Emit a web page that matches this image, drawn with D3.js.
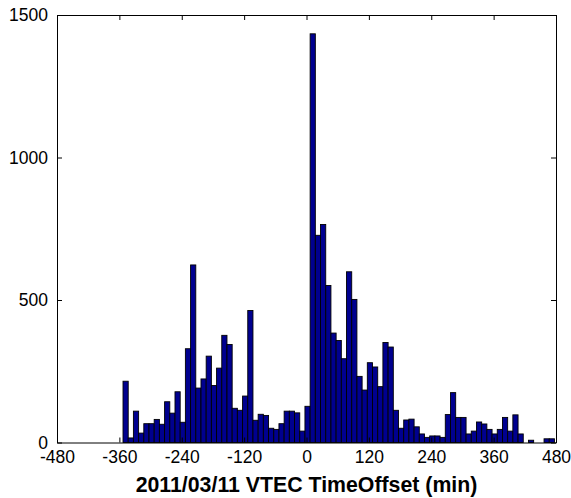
<!DOCTYPE html>
<html>
<head>
<meta charset="utf-8">
<script src="https://cdn.jsdelivr.net/npm/d3@7"></script>
<style>
  html, body { margin: 0; padding: 0; background: #fff; }
  svg { display: block; }
</style>
</head>
<body>
<svg id="chart" width="571" height="498"></svg>
<script>
// Histogram bins: 10-minute bins, first bin starts at -353 min
const binStart = -353;
const binWidth = 10;
const counts = [
  215, 16, 110, 33, 66, 66, 81, 64, 143, 103,
  178, 71, 329, 623, 191, 223, 303, 200, 261, 376,
  344, 120, 113, 163, 463, 78, 99, 95, 50, 46,
  66, 110, 110, 104, 40, 127, 1434, 727, 765, 551,
  384, 358, 294, 599, 502, 232, 184, 280, 265, 196,
  351, 335, 113, 50, 79, 82, 55, 30, 18, 23,
  23, 18, 98, 175, 88, 88, 30, 40, 72, 65,
  46, 30, 46, 88, 40, 97, 30, 0, 8, 0,
  0, 13, 13
];
const xTicks = [-480, -360, -240, -120, 0, 120, 240, 360, 480];
const yTicks = [0, 500, 1000, 1500];
const xLabel = "2011/03/11 VTEC TimeOffset (min)";

(function () {
const bins = counts.map((c, i) => ({ x0: binStart + i * binWidth, x1: binStart + (i + 1) * binWidth, v: c }));

const svg = d3.select("#chart");
const mLeft = 57, mRight = 556, mTop = 15, mBottom = 442.5;

const x = d3.scaleLinear().domain([-480, 480]).range([mLeft, mRight]);
const y = d3.scaleLinear().domain([0, 1500]).range([mBottom, mTop]);

// bars
svg.append("g").selectAll("rect")
  .data(bins.filter(d => d.v > 0))
  .join("rect")
  .attr("x", d => x(d.x0))
  .attr("width", d => x(d.x1) - x(d.x0))
  .attr("y", d => y(d.v))
  .attr("height", d => y(0) - y(d.v))
  .attr("fill", "#00008F")
  .attr("stroke", "#000")
  .attr("stroke-width", 0.9);

const font = "'Liberation Sans', Arial, Helvetica, sans-serif";
const tickLen = 5;
const fmt = d => String(d);

const axB = d3.axisBottom(x).tickValues(xTicks).tickSizeInner(-tickLen).tickSizeOuter(0).tickPadding(9).tickFormat(fmt);
const axT = d3.axisTop(x).tickValues(xTicks).tickSizeInner(-tickLen).tickSizeOuter(0).tickFormat("");
const axL = d3.axisLeft(y).tickValues(yTicks).tickSizeInner(-tickLen).tickSizeOuter(0).tickPadding(9).tickFormat(fmt);
const axR = d3.axisRight(y).tickValues(yTicks).tickSizeInner(-tickLen).tickSizeOuter(0).tickFormat("");

const gB = svg.append("g").attr("transform", `translate(0,${mBottom})`).call(axB);
const gT = svg.append("g").attr("transform", `translate(0,${mTop})`).call(axT);
const gL = svg.append("g").attr("transform", `translate(${mLeft},0)`).call(axL);
const gR = svg.append("g").attr("transform", `translate(${mRight},0)`).call(axR);

[gB, gT, gL, gR].forEach(g => {
  g.select(".domain").attr("stroke", "#000").attr("stroke-width", 1);
  g.selectAll(".tick line").attr("stroke", "#000").attr("stroke-width", 1);
  g.selectAll("text").attr("font-family", font).attr("font-size", 17.5).attr("fill", "#000");
});
gB.selectAll("text").attr("dy", "0.71em").attr("y", 8.5);

svg.append("text")
  .attr("x", (mLeft + mRight) / 2)
  .attr("y", 492)
  .attr("text-anchor", "middle")
  .attr("font-family", font)
  .attr("font-weight", "bold")
  .attr("font-size", 21.3)
  .attr("fill", "#000")
  .text(xLabel);
})();
</script>
</body>
</html>
